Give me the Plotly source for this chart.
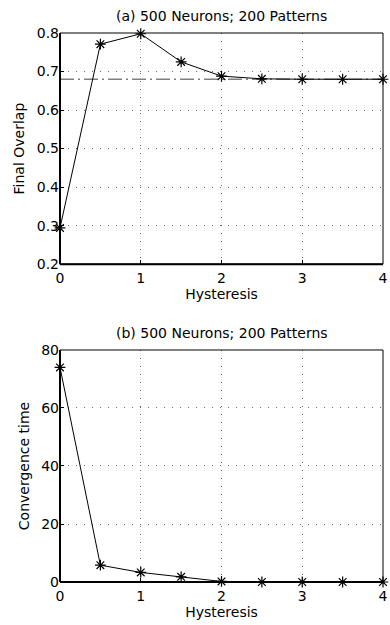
import plotly.graph_objects as go
from plotly.subplots import make_subplots

hysteresis = [0, 0.5, 1, 1.5, 2, 2.5, 3, 3.5, 4]
final_overlap = [0.294, 0.771, 0.798, 0.725, 0.688, 0.681, 0.680, 0.680, 0.680]
reference_overlap = 0.680
convergence_time = [74.0, 5.8, 3.3, 1.8, 0.2, 0.0, 0.0, 0.0, 0.0]

title_a = "(a) 500 Neurons; 200 Patterns"
title_b = "(b) 500 Neurons; 200 Patterns"

FONT = "DejaVu Sans, Liberation Sans, Arial, sans-serif"
FS = 14

fig = make_subplots(rows=2, cols=1)

fig.add_trace(go.Scatter(x=[0, 4], y=[reference_overlap, reference_overlap], mode="lines",
                         line=dict(color="#808080", width=1.3, dash="14px,4px,2px,4px"),
                         hoverinfo="skip", showlegend=False), row=1, col=1)
marker = dict(symbol="asterisk-open", size=9, color="black", line=dict(color="black", width=1.2))
fig.add_trace(go.Scatter(x=hysteresis, y=final_overlap, mode="lines+markers",
                         line=dict(color="black", width=1), marker=marker,
                         showlegend=False, cliponaxis=False), row=1, col=1)
fig.add_trace(go.Scatter(x=hysteresis, y=convergence_time, mode="lines+markers",
                         line=dict(color="black", width=1), marker=marker,
                         showlegend=False, cliponaxis=False), row=2, col=1)

axis_common = dict(showline=False, zeroline=False, showgrid=True,
                   gridcolor="#666666", griddash="1px,7px", gridwidth=1,
                   ticks="inside", ticklen=4, tickcolor="black",
                   tickfont=dict(family=FONT, size=FS, color="black"))

xtitle = dict(text="Hysteresis", font=dict(family=FONT, size=FS, color="black"), standoff=4)
fig.update_xaxes(range=[0, 4], tickvals=[0, 1, 2, 3, 4], ticklabeloverflow="allow",
                 ticklabelstandoff=4, title=xtitle, **axis_common)
fig.update_yaxes(**axis_common)
fig.update_yaxes(range=[0.2, 0.8], tickvals=[0.2, 0.3, 0.4, 0.5, 0.6, 0.7, 0.8],
                 ticktext=["0.2", "0.3", "0.4", "0.5", "0.6", "0.7", "0.8"],
                 title=dict(text="Final Overlap", font=dict(family=FONT, size=FS, color="black"), standoff=8),
                 row=1, col=1)
fig.update_yaxes(range=[0, 80], tickvals=[0, 20, 40, 60, 80],
                 title=dict(text="Convergence time", font=dict(family=FONT, size=FS, color="black"), standoff=8),
                 row=2, col=1)

fig.update_layout(
    width=390, height=625,
    margin=dict(l=60, r=2, t=33, b=43),
    paper_bgcolor="white", plot_bgcolor="white",
    font=dict(family=FONT, size=FS, color="black"),
    xaxis=dict(domain=[0, 1]), yaxis=dict(domain=[0.579, 1.0]),
    xaxis2=dict(domain=[0, 1]), yaxis2=dict(domain=[0.0, 0.4226]),
)

shapes = []
for xr, yr in [("x domain", "y domain"), ("x2 domain", "y2 domain")]:
    shapes.append(dict(type="rect", xref=xr, yref=yr, x0=0, x1=1, y0=0, y1=1,
                       line=dict(color="black", width=1), layer="above"))
    shapes.append(dict(type="line", xref=xr, yref=yr, x0=0, x1=0, y0=0, y1=1,
                       line=dict(color="black", width=2), layer="above"))
    shapes.append(dict(type="line", xref=xr, yref=yr, x0=0, x1=1, y0=0, y1=0,
                       line=dict(color="black", width=2), layer="above"))
fig.update_layout(shapes=shapes)

fig.add_annotation(text=title_a, xref="x domain", yref="y domain", x=0.5, y=1.0,
                   yshift=7, xanchor="center", yanchor="bottom", showarrow=False,
                   font=dict(family=FONT, size=FS, color="black"))
fig.add_annotation(text=title_b, xref="x2 domain", yref="y2 domain", x=0.5, y=1.0,
                   yshift=7, xanchor="center", yanchor="bottom", showarrow=False,
                   font=dict(family=FONT, size=FS, color="black"))

fig.write_html("out.html")
